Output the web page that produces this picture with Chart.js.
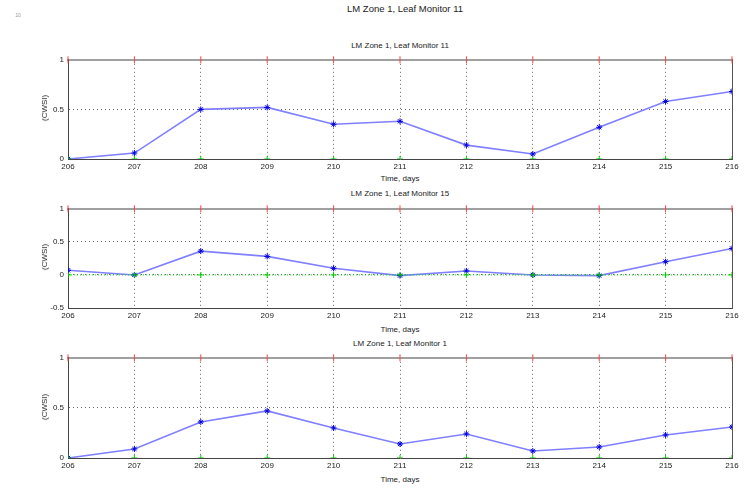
<!DOCTYPE html>
<html>
<head>
<meta charset="utf-8">
<script src="https://cdn.jsdelivr.net/npm/chart.js@4.4.1/dist/chart.umd.min.js"></script>
<style>
  body { margin: 0; background: #fff; }
  #wrap { position: relative; width: 750px; height: 488px; overflow: hidden; background: #fff;
          font-family: "Liberation Sans", Arial, sans-serif; color: #222; }
  #wrap canvas { position: absolute; left: 0; }
  .txt { position: absolute; white-space: nowrap; transform: translate(-50%, -50%); font-size: 8px; line-height: 1; }
  .ylab { transform: translate(-50%, -50%) rotate(-90deg); }
</style>
</head>
<body>
<div id="wrap"></div>
<script>
// days on the x axis
const days = [206, 207, 208, 209, 210, 211, 212, 213, 214, 215, 216];

// CWSI
const cwsiMonitor11 = [0.00, 0.06, 0.50, 0.52, 0.35, 0.38, 0.14, 0.05, 0.32, 0.58, 0.68];
const cwsiMonitor15 = [0.07, 0.00, 0.36, 0.28, 0.10, -0.01, 0.06, 0.00, -0.01, 0.20, 0.40];
const cwsiMonitor1  = [0.00, 0.09, 0.36, 0.47, 0.30, 0.14, 0.24, 0.07, 0.11, 0.23, 0.31];

// reference lines (upper = 1, lower = 0)
const upperLine = [1, 1, 1, 1, 1, 1, 1, 1, 1, 1, 1];
const lowerLine = [0, 0, 0, 0, 0, 0, 0, 0, 0, 0, 0];

const mainTitle = "LM Zone 1, Leaf Monitor 11";
const panelTitles = ["LM Zone 1, Leaf Monitor 11", "LM Zone 1, Leaf Monitor 15", "LM Zone 1, Leaf Monitor 1"];
const xLabel = "Time, days";
const yLabel = "(CWSI)";

const panels = [
  { values: cwsiMonitor11, yMin: 0,    top: 57,  bottom: 159, titleY: 46,  xLabY: 179, greenLine: false },
  { values: cwsiMonitor15, yMin: -0.5, top: 206, bottom: 308, titleY: 194, xLabY: 330, greenLine: true },
  { values: cwsiMonitor1,  yMin: 0,    top: 355, bottom: 458, titleY: 344, xLabY: 480, greenLine: false }
];

const wrap = document.getElementById('wrap');
const PAD_TOP = 6, X_AXIS_H = 14;
const tickFont = { family: "'Liberation Sans', Arial, sans-serif", size: 8 };

function addText(str, x, y, extra) {
  const d = document.createElement('div');
  d.className = 'txt' + (extra ? ' ' + extra : '');
  d.textContent = str;
  d.style.left = x + 'px';
  d.style.top = y + 'px';
  wrap.appendChild(d);
  return d;
}

let t = addText(mainTitle, 405, 9);
t.style.fontSize = '9.5px';
t = addText("10", 18, 15);
t.style.fontSize = '5px';
t.style.color = '#999';

function pts(arr) {
  return days.map((d, i) => ({ x: d, y: arr[i] }));
}

panels.forEach((p, idx) => {
  const h = p.bottom - p.top + PAD_TOP + X_AXIS_H;
  const cv = document.createElement('canvas');
  cv.width = 750; cv.height = h;
  cv.style.width = '750px'; cv.style.height = h + 'px';
  cv.style.top = (p.top - PAD_TOP) + 'px';
  wrap.appendChild(cv);

  addText(panelTitles[idx], 400, p.titleY);
  addText(xLabel, 400, p.xLabY);
  addText(yLabel, 45, (p.top + p.bottom) / 2, 'ylab');

  new Chart(cv, {
    type: 'line',
    data: {
      datasets: [
        {
          data: pts(lowerLine),
          borderColor: '#00dd00',
          borderWidth: 1,
          borderDash: [1, 2],
          showLine: p.greenLine,
          pointStyle: 'cross',
          pointRadius: 3,
          pointBorderColor: '#00cc00',
          pointBorderWidth: 1
        },
        {
          data: pts(upperLine),
          showLine: false,
          pointStyle: 'line',
          rotation: 90,
          pointRadius: 3.5,
          pointBorderColor: '#ff4040',
          pointBorderWidth: 1,
          clip: false
        },
        {
          data: pts(p.values),
          borderColor: '#7f7fff',
          borderWidth: 1.6,
          pointStyle: 'star',
          pointRadius: 3,
          pointBorderColor: '#0000dd',
          pointBackgroundColor: '#0000dd',
          pointBorderWidth: 1,
          tension: 0
        }
      ]
    },
    options: {
      responsive: false,
      animation: false,
      events: [],
      layout: { padding: { top: PAD_TOP, right: 18, left: 0, bottom: 0 } },
      plugins: { legend: { display: false }, title: { display: false }, tooltip: { enabled: false } },
      scales: {
        x: {
          type: 'linear',
          min: days[0],
          max: days[days.length - 1],
          ticks: { stepSize: 1, color: '#222', font: tickFont, padding: 3, maxRotation: 0 },
          grid: { color: '#666', lineWidth: 1, drawTicks: false },
          border: { color: '#444', width: 1, dash: [1, 3] },
          afterFit: s => { s.height = X_AXIS_H; }
        },
        xTop: {
          type: 'linear', position: 'top', min: days[0], max: days[days.length - 1],
          ticks: { display: false }, grid: { display: false },
          border: { color: '#a0a0a0', width: 2 },
          afterFit: s => { s.height = 0; }
        },
        y: {
          min: p.yMin,
          max: 1,
          ticks: {
            stepSize: 0.5, color: '#222', font: tickFont, padding: 4,
            callback: v => String(Math.round(v * 100) / 100)
          },
          grid: { color: '#666', lineWidth: 1, drawTicks: false },
          border: { color: '#444', width: 1, dash: [1, 3] },
          afterFit: s => { s.width = 68; }
        },
        yRight: {
          position: 'right', min: p.yMin, max: 1,
          ticks: { display: false }, grid: { display: false },
          border: { color: '#555', width: 1 },
          afterFit: s => { s.width = 0; }
        }
      }
    }
  });
});
</script>
</body>
</html>
